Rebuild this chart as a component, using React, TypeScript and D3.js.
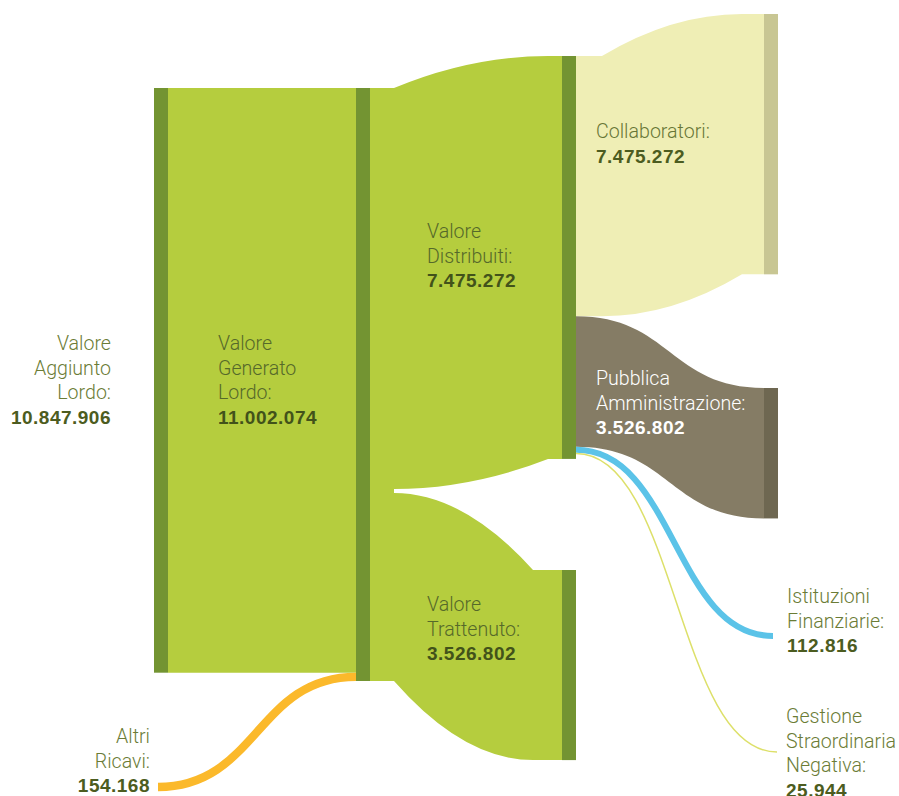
import React from 'react';
import * as d3 from 'd3';

// ---------- DATA ----------
const nodeIds = ['aggiunto', 'altri', 'generato', 'distribuiti', 'trattenuto', 'collaboratori', 'pa', 'istituzioni', 'gestione'];
const nodeLabelLines = [
  ['Valore', 'Aggiunto', 'Lordo:'],
  ['Altri', 'Ricavi:'],
  ['Valore', 'Generato', 'Lordo:'],
  ['Valore', 'Distribuiti:'],
  ['Valore', 'Trattenuto:'],
  ['Collaboratori:'],
  ['Pubblica', 'Amministrazione:'],
  ['Istituzioni', 'Finanziarie:'],
  ['Gestione', 'Straordinaria', 'Negativa:'],
];
const nodeValueLabels = ['10.847.906', '154.168', '11.002.074', '7.475.272', '3.526.802', '7.475.272', '3.526.802', '112.816', '25.944'];

const linkSources = ['aggiunto', 'altri', 'generato', 'generato', 'distribuiti', 'distribuiti', 'distribuiti', 'distribuiti'];
const linkTargets = ['generato', 'generato', 'distribuiti', 'trattenuto', 'collaboratori', 'pa', 'istituzioni', 'gestione'];
const linkValues = [10847906, 154168, 7475272, 3526802, 4830000, 2420000, 112816, 25944];

// ---------- LAYOUT / STYLE ----------
const BAR_W = 14;
const nodeLayout: Record<string, any> = {
  aggiunto: { x: 154, top: 88, bar: '#739432' },
  generato: { x: 356, top: 88, bar: '#739432' },
  distribuiti: { x: 562, top: 56, bar: '#739432' },
  trattenuto: { x: 562, top: 570, bar: '#739432' },
  collaboratori: { x: 764, top: 14, bar: '#c8c693' },
  pa: { x: 764, top: 388, bar: '#6e6751' },
  altri: { px: 158, cy: 787 },
  istituzioni: { px: 773, cy: 636 },
  gestione: { px: 777, cy: 752 },
};
const labelLayout: Record<string, any> = {
  aggiunto: { x: 111, y: 350, anchor: 'end', c1: '#6b7c36', c2: '#4c5c20' },
  generato: { x: 218, y: 350, anchor: 'start', c1: '#55692a', c2: '#42521a' },
  distribuiti: { x: 427, y: 238, anchor: 'start', c1: '#55692a', c2: '#42521a' },
  trattenuto: { x: 427, y: 611, anchor: 'start', c1: '#55692a', c2: '#42521a' },
  collaboratori: { x: 596, y: 138, anchor: 'start', c1: '#677636', c2: '#4c5c20' },
  pa: { x: 596, y: 385, anchor: 'start', c1: '#ffffff', c2: '#ffffff' },
  istituzioni: { x: 787, y: 603, anchor: 'start', c1: '#6b7c36', c2: '#4c5c20' },
  gestione: { x: 786, y: 723, anchor: 'start', c1: '#6b7c36', c2: '#4c5c20' },
  altri: { x: 150, y: 743, anchor: 'end', c1: '#6b7c36', c2: '#4c5c20' },
};
const linkStyle = [
  { kind: 'band', color: '#b5cd3e', top: 'line', bottom: 'line', in0: 0, in1: 0 },
  { kind: 'stroke', color: '#fbb92b' },
  { kind: 'band', color: '#b5cd3e', top: 'steep', bottom: 'slow', in0: 24, in1: 14, bInset: 2 },
  { kind: 'band', color: '#b5cd3e', top: 'slow', bottom: 'steep', in0: 24, in1: 29, tInset: 2 },
  { kind: 'band', color: '#efeeb5', top: 'steep', bottom: 'slow', in0: 26, in1: 22 },
  { kind: 'band', color: '#857c65', top: 'sig', bottom: 'sig', in0: 0, in1: 0 },
  { kind: 'stroke', color: '#5bc3e8' },
  { kind: 'stroke', color: '#dde06a', minW: 1.5 },
];
const LINE_H = 24.5;

function edge(xa: number, ya: number, xb: number, yb: number, type: string, reverse: boolean) {
  const mx = (xa + xb) / 2;
  const [ex, ey] = reverse ? [xa, ya] : [xb, yb];
  if (type === 'line') return `L${ex},${ey}`;
  if (type === 'steep') return `Q${mx},${yb} ${ex},${ey}`;
  if (type === 'slow') return `Q${mx},${ya} ${ex},${ey}`;
  return reverse ? `C${mx},${yb} ${mx},${ya} ${ex},${ey}` : `C${mx},${ya} ${mx},${yb} ${ex},${ey}`;
}

export default function App() {
  const W = 899, H = 796;
  const links = linkSources.map((s, i) => ({ source: s, target: linkTargets[i], value: linkValues[i], style: linkStyle[i], i }));
  const totalGen = d3.sum(links.filter(l => l.target === 'generato'), l => l.value);
  const ky = d3.scaleLinear().domain([0, totalGen]).range([0, 593]);

  const nodes: Record<string, any> = {};
  nodeIds.forEach((id, i) => {
    const inV = d3.sum(links.filter(l => l.target === id), l => l.value);
    const outV = d3.sum(links.filter(l => l.source === id), l => l.value);
    const lay = nodeLayout[id];
    nodes[id] = { id, i, value: Math.max(inV, outV), ...lay, h: ky(Math.max(inV, outV)), outOff: 0, inOff: 0 };
  });

  const geo = links.map(l => {
    const s = nodes[l.source], t = nodes[l.target];
    const w = ky(l.value);
    let sx: number, s0: number, tx: number, t0: number;
    if (s.bar) { sx = s.x + BAR_W; s0 = s.top + s.outOff; s.outOff += w; } else { sx = s.px; s0 = s.cy - w / 2; }
    if (t.bar) { tx = t.x; t0 = t.top + t.inOff; t.inOff += w; } else { tx = t.px; t0 = t.cy - w / 2; }
    return { ...l, w, sx, s0, s1: s0 + w, tx, t0, t1: t0 + w };
  });

  const bandPath = (g: any) => {
    const st = g.style;
    const cx0 = g.sx + st.in0, cx1 = g.tx - st.in1;
    const ti = st.tInset || 0, bi = st.bInset || 0;
    return [
      `M${g.sx},${g.s0}`,
      `L${cx0},${g.s0}`,
      `L${cx0},${g.s0 + ti}`,
      edge(cx0, g.s0 + ti, cx1, g.t0, st.top, false),
      `L${g.tx},${g.t0}`,
      `L${g.tx},${g.t1}`,
      `L${cx1},${g.t1}`,
      edge(cx0, g.s1 - bi, cx1, g.t1, st.bottom, true),
      `L${cx0},${g.s1}`,
      `L${g.sx},${g.s1}`,
      'Z',
    ].join(' ');
  };
  const strokePath = (g: any) => {
    const sy = (g.s0 + g.s1) / 2, ty = (g.t0 + g.t1) / 2;
    const mx = (g.sx + g.tx) / 2;
    return `M${g.sx},${sy} C${mx},${sy} ${mx},${ty} ${g.tx},${ty}`;
  };

  return (
    <svg width={W} height={H} style={{ position: 'absolute', left: 0, top: 0, background: '#fff' }}>
      <g>
        {geo.map(g => g.style.kind === 'band' ? (
          <path key={g.i} d={bandPath(g)} fill={g.style.color} />
        ) : (
          <path key={g.i} d={strokePath(g)} fill="none" stroke={g.style.color} strokeWidth={Math.max(g.w, g.style.minW || 0)} />
        ))}
      </g>
      <g>
        {nodeIds.filter(id => nodes[id].bar).map(id => {
          const n = nodes[id];
          return <rect key={id} x={n.x} y={n.top} width={BAR_W} height={n.h} fill={n.bar} />;
        })}
      </g>
      <g>
        {nodeIds.map((id, i) => {
          const L = labelLayout[id];
          const lines = nodeLabelLines[i];
          return (
            <text key={id} textAnchor={L.anchor}>
              {lines.map((t, k) => (
                <tspan key={k} x={L.x} y={L.y + k * LINE_H} fill={L.c1} fontSize={19.6} fontFamily="Roboto, 'Liberation Sans', sans-serif" fontWeight={300}>{t}</tspan>
              ))}
              <tspan x={L.x} y={L.y + lines.length * LINE_H} fill={L.c2} fontSize={19} fontFamily="'Liberation Sans', Arial, sans-serif" fontWeight={700} letterSpacing={0.5}>{nodeValueLabels[i]}</tspan>
            </text>
          );
        })}
      </g>
    </svg>
  );
}
